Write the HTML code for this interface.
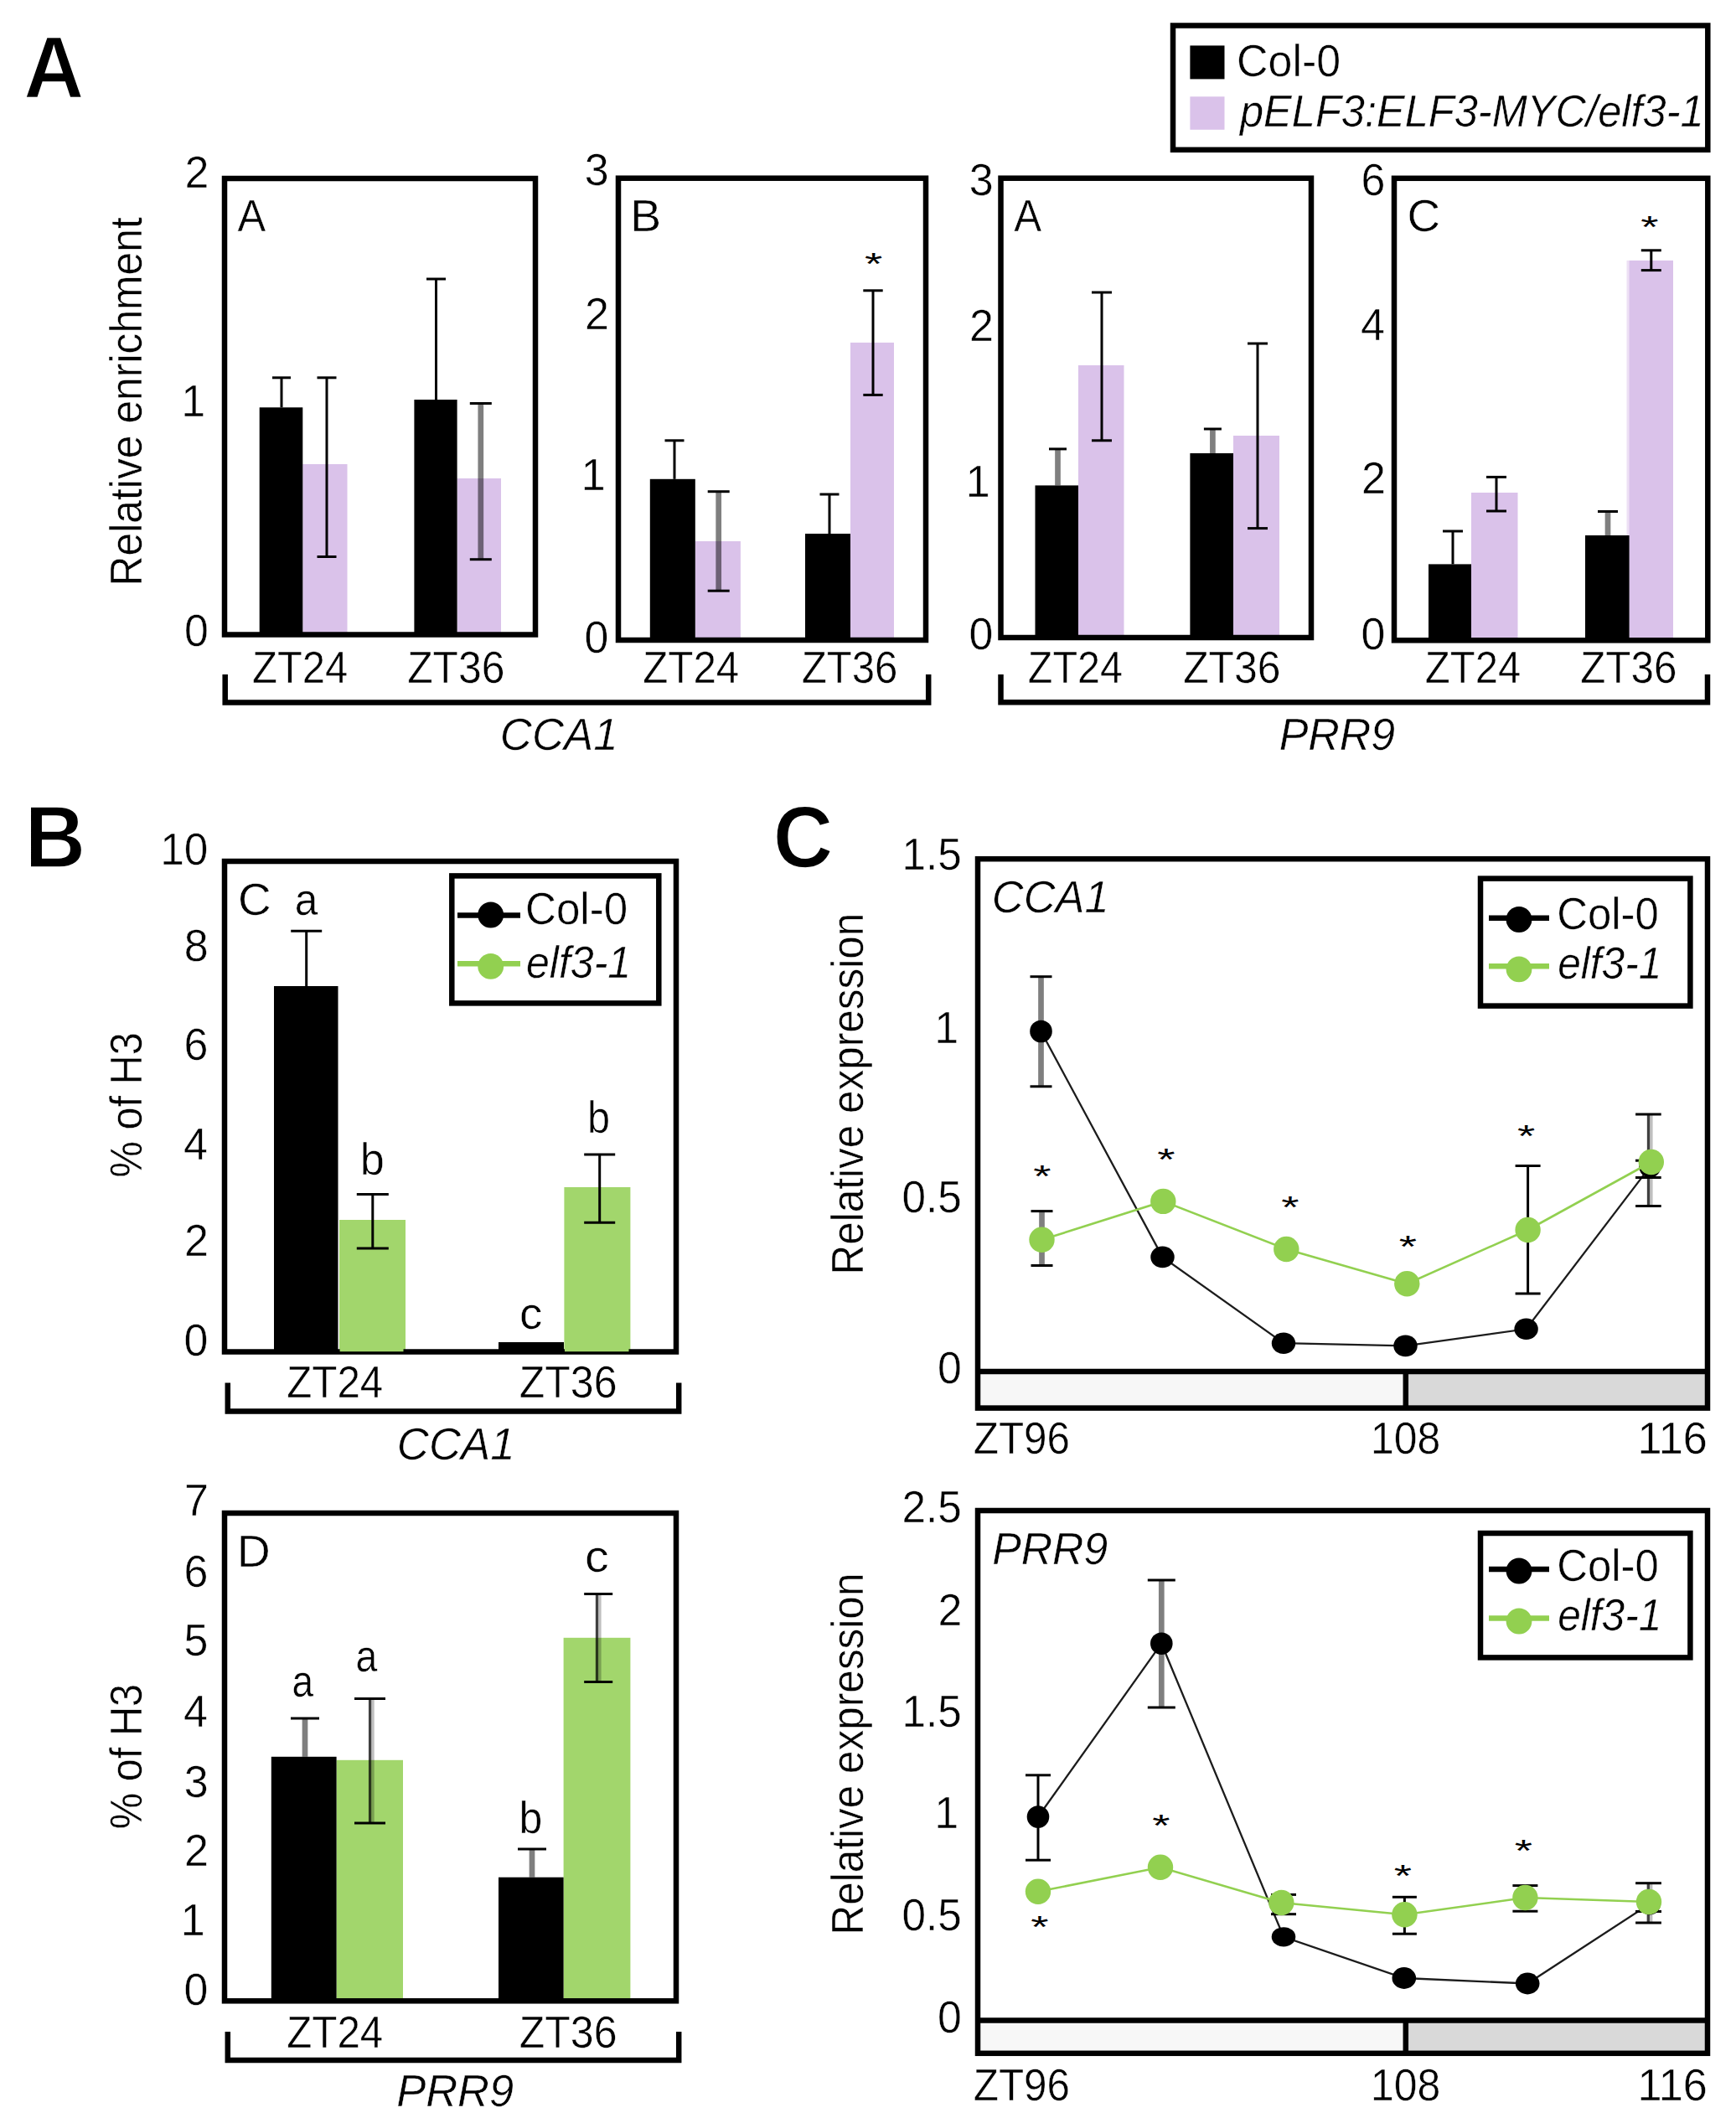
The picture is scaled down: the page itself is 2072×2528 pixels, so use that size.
<!DOCTYPE html>
<html><head><meta charset="utf-8"><title>Figure</title>
<style>
html,body{margin:0;padding:0;background:#fff;}
svg{display:block;font-family:"Liberation Sans",sans-serif;}
</style></head>
<body>
<svg width="2072" height="2528" viewBox="0 0 2072 2528">
<rect width="2072" height="2528" fill="#fff"/>
<g>
<text transform="translate(28.20,115.60) scale(0.9647,1)" font-size="103.5" font-weight="bold" fill="#000" stroke="#fff" stroke-width="1.6">A</text>
<text transform="translate(29.41,1035.30) scale(0.9725,1)" font-size="103.5" font-weight="bold" fill="#000" stroke="#fff" stroke-width="1.6">B</text>
<text transform="translate(922.64,1035.10) scale(0.9573,1)" font-size="103.5" font-weight="bold" fill="#000" stroke="#fff" stroke-width="1.6">C</text>
<rect x="1400.00" y="30.50" width="638.30" height="148.30" fill="none" stroke="#000" stroke-width="6.5"/>
<rect x="1420.40" y="54.40" width="41.10" height="40.00" fill="#000"/>
<rect x="1420.40" y="115.30" width="41.10" height="39.50" fill="#dac2ea"/>
<text transform="translate(1476.05,90.55) scale(0.9795,1)" font-size="53" fill="#000" stroke="#fff" stroke-width="0.5">Col-0</text>
<text transform="translate(1479.91,151.25) scale(0.9545,1)" font-size="53" font-style="italic" fill="#000" stroke="#fff" stroke-width="0.5">pELF3:ELF3-MYC/elf3-1</text>
<rect x="361.30" y="554.00" width="53.20" height="203.50" fill="#dac2ea"/>
<rect x="545.60" y="571.00" width="52.40" height="186.50" fill="#dac2ea"/>
<rect x="309.70" y="486.30" width="51.60" height="271.20" fill="#000"/>
<rect x="494.40" y="477.00" width="51.20" height="280.50" fill="#000"/>
<line x1="336.00" y1="450.80" x2="336.00" y2="486.30" stroke="#000" stroke-width="3" stroke-linecap="butt"/>
<line x1="325.00" y1="450.80" x2="347.00" y2="450.80" stroke="#000" stroke-width="3" stroke-linecap="butt"/>
<line x1="390.00" y1="450.80" x2="390.00" y2="664.50" stroke="#000" stroke-width="3" stroke-linecap="butt"/>
<line x1="378.50" y1="450.80" x2="401.50" y2="450.80" stroke="#000" stroke-width="3" stroke-linecap="butt"/>
<line x1="378.50" y1="664.50" x2="401.50" y2="664.50" stroke="#000" stroke-width="3" stroke-linecap="butt"/>
<line x1="520.50" y1="333.00" x2="520.50" y2="477.00" stroke="#000" stroke-width="3" stroke-linecap="butt"/>
<line x1="509.00" y1="333.00" x2="532.00" y2="333.00" stroke="#000" stroke-width="3" stroke-linecap="butt"/>
<line x1="573.80" y1="481.50" x2="573.80" y2="667.70" stroke="#000" stroke-opacity="0.5" stroke-width="6.7"/>
<line x1="560.80" y1="481.50" x2="586.80" y2="481.50" stroke="#000" stroke-width="3" stroke-linecap="butt"/>
<line x1="560.80" y1="667.70" x2="586.80" y2="667.70" stroke="#000" stroke-width="3" stroke-linecap="butt"/>
<rect x="268.00" y="213.00" width="371.00" height="544.50" fill="none" stroke="#000" stroke-width="6.5"/>
<text transform="translate(220.50,223.73) scale(0.9807,1)" font-size="53" fill="#000" stroke="#fff" stroke-width="0.5">2</text>
<text transform="translate(216.34,497.23) scale(0.9818,1)" font-size="53" fill="#000" stroke="#fff" stroke-width="0.5">1</text>
<text transform="translate(219.88,771.23) scale(0.9798,1)" font-size="53" fill="#000" stroke="#fff" stroke-width="0.5">0</text>
<text transform="translate(283.62,276.25) scale(0.9541,1)" font-size="53" fill="#000" stroke="#fff" stroke-width="0.5">A</text>
<text transform="translate(300.96,814.55) scale(0.9249,1)" font-size="53" fill="#000" stroke="#fff" stroke-width="0.5">ZT24</text>
<text transform="translate(486.13,814.55) scale(0.9403,1)" font-size="53" fill="#000" stroke="#fff" stroke-width="0.5">ZT36</text>
<text transform="translate(169.10,699.51) rotate(-90) scale(0.9404,1)" font-size="53" stroke="#fff" stroke-width="0.5">Relative enrichment</text>
<rect x="829.80" y="646.00" width="54.10" height="118.00" fill="#dac2ea"/>
<rect x="1015.00" y="408.90" width="52.00" height="355.10" fill="#dac2ea"/>
<rect x="775.80" y="571.80" width="54.00" height="192.20" fill="#000"/>
<rect x="961.00" y="637.00" width="54.00" height="127.00" fill="#000"/>
<line x1="805.00" y1="525.80" x2="805.00" y2="571.80" stroke="#000" stroke-width="3" stroke-linecap="butt"/>
<line x1="793.50" y1="525.80" x2="816.50" y2="525.80" stroke="#000" stroke-width="3" stroke-linecap="butt"/>
<line x1="857.70" y1="586.70" x2="857.70" y2="705.20" stroke="#000" stroke-opacity="0.5" stroke-width="6.7"/>
<line x1="844.70" y1="586.70" x2="870.70" y2="586.70" stroke="#000" stroke-width="3" stroke-linecap="butt"/>
<line x1="844.70" y1="705.20" x2="870.70" y2="705.20" stroke="#000" stroke-width="3" stroke-linecap="butt"/>
<line x1="990.00" y1="590.00" x2="990.00" y2="637.00" stroke="#000" stroke-width="3" stroke-linecap="butt"/>
<line x1="978.50" y1="590.00" x2="1001.50" y2="590.00" stroke="#000" stroke-width="3" stroke-linecap="butt"/>
<line x1="1042.00" y1="346.80" x2="1042.00" y2="471.40" stroke="#000" stroke-width="3" stroke-linecap="butt"/>
<line x1="1030.30" y1="346.80" x2="1053.70" y2="346.80" stroke="#000" stroke-width="3" stroke-linecap="butt"/>
<line x1="1030.30" y1="471.40" x2="1053.70" y2="471.40" stroke="#000" stroke-width="3" stroke-linecap="butt"/>
<rect x="738.00" y="212.70" width="367.00" height="551.30" fill="none" stroke="#000" stroke-width="6.5"/>
<text transform="translate(697.63,220.53) scale(0.9799,1)" font-size="53" fill="#000" stroke="#fff" stroke-width="0.5">3</text>
<text transform="translate(698.00,392.53) scale(0.9807,1)" font-size="53" fill="#000" stroke="#fff" stroke-width="0.5">2</text>
<text transform="translate(693.84,585.43) scale(0.9818,1)" font-size="53" fill="#000" stroke="#fff" stroke-width="0.5">1</text>
<text transform="translate(697.38,778.73) scale(0.9798,1)" font-size="53" fill="#000" stroke="#fff" stroke-width="0.5">0</text>
<text transform="translate(752.18,276.05) scale(1.0453,1)" font-size="53" fill="#000" stroke="#fff" stroke-width="0.5">B</text>
<text transform="translate(1032.05,327.99) scale(1.03,0.71)" font-size="53">*</text>
<text transform="translate(767.15,814.55) scale(0.9307,1)" font-size="53" fill="#000" stroke="#fff" stroke-width="0.5">ZT24</text>
<text transform="translate(956.65,814.55) scale(0.9277,1)" font-size="53" fill="#000" stroke="#fff" stroke-width="0.5">ZT36</text>
<polyline points="268.70,805.00 268.70,838.50 1108.20,838.50 1108.20,805.00" fill="none" stroke="#000" stroke-width="6.5"/>
<text transform="translate(596.85,895.25) scale(0.9956,1)" font-size="53" font-style="italic" fill="#000" stroke="#fff" stroke-width="0.5">CCA1</text>
<rect x="1287.00" y="436.00" width="54.50" height="325.00" fill="#dac2ea"/>
<rect x="1472.00" y="520.00" width="55.00" height="241.00" fill="#dac2ea"/>
<rect x="1235.50" y="579.40" width="51.50" height="181.60" fill="#000"/>
<rect x="1420.40" y="541.00" width="51.60" height="220.00" fill="#000"/>
<line x1="1262.50" y1="535.90" x2="1262.50" y2="579.40" stroke="#000" stroke-opacity="0.5" stroke-width="6.7"/>
<line x1="1252.00" y1="535.90" x2="1273.00" y2="535.90" stroke="#000" stroke-width="3" stroke-linecap="butt"/>
<line x1="1315.00" y1="349.00" x2="1315.00" y2="525.80" stroke="#000" stroke-width="3" stroke-linecap="butt"/>
<line x1="1303.00" y1="349.00" x2="1327.00" y2="349.00" stroke="#000" stroke-width="3" stroke-linecap="butt"/>
<line x1="1303.00" y1="525.80" x2="1327.00" y2="525.80" stroke="#000" stroke-width="3" stroke-linecap="butt"/>
<line x1="1447.40" y1="512.00" x2="1447.40" y2="541.00" stroke="#000" stroke-opacity="0.5" stroke-width="6.7"/>
<line x1="1436.90" y1="512.00" x2="1457.90" y2="512.00" stroke="#000" stroke-width="3" stroke-linecap="butt"/>
<line x1="1501.00" y1="410.00" x2="1501.00" y2="630.60" stroke="#000" stroke-width="3" stroke-linecap="butt"/>
<line x1="1489.00" y1="410.00" x2="1513.00" y2="410.00" stroke="#000" stroke-width="3" stroke-linecap="butt"/>
<line x1="1489.00" y1="630.60" x2="1513.00" y2="630.60" stroke="#000" stroke-width="3" stroke-linecap="butt"/>
<rect x="1194.50" y="212.70" width="370.50" height="548.30" fill="none" stroke="#000" stroke-width="6.5"/>
<text transform="translate(1156.63,233.03) scale(0.9799,1)" font-size="53" fill="#000" stroke="#fff" stroke-width="0.5">3</text>
<text transform="translate(1157.00,406.53) scale(0.9807,1)" font-size="53" fill="#000" stroke="#fff" stroke-width="0.5">2</text>
<text transform="translate(1152.84,593.23) scale(0.9818,1)" font-size="53" fill="#000" stroke="#fff" stroke-width="0.5">1</text>
<text transform="translate(1156.38,774.73) scale(0.9798,1)" font-size="53" fill="#000" stroke="#fff" stroke-width="0.5">0</text>
<text transform="translate(1210.13,276.05) scale(0.9313,1)" font-size="53" fill="#000" stroke="#fff" stroke-width="0.5">A</text>
<text transform="translate(1226.77,814.55) scale(0.9150,1)" font-size="53" fill="#000" stroke="#fff" stroke-width="0.5">ZT24</text>
<text transform="translate(1412.13,814.55) scale(0.9403,1)" font-size="53" fill="#000" stroke="#fff" stroke-width="0.5">ZT36</text>
<rect x="1941.50" y="310.90" width="3.70" height="453.10" fill="#ede0f5"/>
<rect x="1756.00" y="588.00" width="55.50" height="176.30" fill="#dac2ea"/>
<rect x="1944.60" y="310.90" width="52.40" height="453.40" fill="#dac2ea"/>
<rect x="1705.00" y="673.40" width="51.00" height="90.90" fill="#000"/>
<rect x="1892.00" y="639.00" width="52.60" height="125.30" fill="#000"/>
<line x1="1734.00" y1="634.00" x2="1734.00" y2="673.40" stroke="#000" stroke-width="3" stroke-linecap="butt"/>
<line x1="1722.00" y1="634.00" x2="1746.00" y2="634.00" stroke="#000" stroke-width="3" stroke-linecap="butt"/>
<line x1="1786.00" y1="569.40" x2="1786.00" y2="610.00" stroke="#000" stroke-width="3" stroke-linecap="butt"/>
<line x1="1774.00" y1="569.40" x2="1798.00" y2="569.40" stroke="#000" stroke-width="3" stroke-linecap="butt"/>
<line x1="1774.00" y1="610.00" x2="1798.00" y2="610.00" stroke="#000" stroke-width="3" stroke-linecap="butt"/>
<line x1="1919.00" y1="610.50" x2="1919.00" y2="639.00" stroke="#000" stroke-opacity="0.5" stroke-width="6.7"/>
<line x1="1907.00" y1="610.50" x2="1931.00" y2="610.50" stroke="#000" stroke-width="3" stroke-linecap="butt"/>
<line x1="1970.80" y1="298.80" x2="1970.80" y2="322.60" stroke="#000" stroke-width="3" stroke-linecap="butt"/>
<line x1="1958.80" y1="298.80" x2="1982.80" y2="298.80" stroke="#000" stroke-width="3" stroke-linecap="butt"/>
<line x1="1958.80" y1="322.60" x2="1982.80" y2="322.60" stroke="#000" stroke-width="3" stroke-linecap="butt"/>
<rect x="1664.00" y="212.80" width="374.30" height="551.50" fill="none" stroke="#000" stroke-width="6.5"/>
<text transform="translate(1624.62,232.73) scale(0.9804,1)" font-size="53" fill="#000" stroke="#fff" stroke-width="0.5">6</text>
<text transform="translate(1623.89,405.73) scale(0.9787,1)" font-size="53" fill="#000" stroke="#fff" stroke-width="0.5">4</text>
<text transform="translate(1625.00,588.73) scale(0.9807,1)" font-size="53" fill="#000" stroke="#fff" stroke-width="0.5">2</text>
<text transform="translate(1624.38,774.73) scale(0.9798,1)" font-size="53" fill="#000" stroke="#fff" stroke-width="0.5">0</text>
<text transform="translate(1679.51,275.85) scale(1.0340,1)" font-size="53" fill="#000" stroke="#fff" stroke-width="0.5">C</text>
<text transform="translate(1958.35,283.79) scale(1.03,0.71)" font-size="53">*</text>
<text transform="translate(1700.76,814.55) scale(0.9249,1)" font-size="53" fill="#000" stroke="#fff" stroke-width="0.5">ZT24</text>
<text transform="translate(1886.14,814.55) scale(0.9319,1)" font-size="53" fill="#000" stroke="#fff" stroke-width="0.5">ZT36</text>
<polyline points="1194.50,805.00 1194.50,838.20 2038.00,838.20 2038.00,805.00" fill="none" stroke="#000" stroke-width="6.5"/>
<text transform="translate(1526.69,895.25) scale(0.9803,1)" font-size="53" font-style="italic" fill="#000" stroke="#fff" stroke-width="0.5">PRR9</text>
<rect x="405.00" y="1456.00" width="79.00" height="157.50" fill="#a2d66c"/>
<rect x="673.40" y="1417.00" width="79.00" height="196.50" fill="#a2d66c"/>
<rect x="327.00" y="1177.00" width="76.50" height="436.50" fill="#000"/>
<rect x="595.00" y="1602.00" width="78.00" height="11.50" fill="#000"/>
<line x1="365.70" y1="1111.30" x2="365.70" y2="1177.00" stroke="#000" stroke-width="3" stroke-linecap="butt"/>
<line x1="347.20" y1="1111.30" x2="384.20" y2="1111.30" stroke="#000" stroke-width="3" stroke-linecap="butt"/>
<line x1="444.80" y1="1425.50" x2="444.80" y2="1490.00" stroke="#000" stroke-width="3" stroke-linecap="butt"/>
<line x1="425.80" y1="1425.50" x2="463.80" y2="1425.50" stroke="#000" stroke-width="3" stroke-linecap="butt"/>
<line x1="425.80" y1="1490.00" x2="463.80" y2="1490.00" stroke="#000" stroke-width="3" stroke-linecap="butt"/>
<line x1="715.70" y1="1378.00" x2="715.70" y2="1459.30" stroke="#000" stroke-width="3" stroke-linecap="butt"/>
<line x1="697.20" y1="1378.00" x2="734.20" y2="1378.00" stroke="#000" stroke-width="3" stroke-linecap="butt"/>
<line x1="697.20" y1="1459.30" x2="734.20" y2="1459.30" stroke="#000" stroke-width="3" stroke-linecap="butt"/>
<rect x="268.00" y="1028.00" width="539.00" height="585.50" fill="none" stroke="#000" stroke-width="6.5"/>
<rect x="405.60" y="1600.00" width="75.90" height="13.20" fill="#a2d66c"/>
<rect x="674.00" y="1600.00" width="76.50" height="13.20" fill="#a2d66c"/>
<text transform="translate(191.14,1031.73) scale(0.9695,1)" font-size="53" fill="#000" stroke="#fff" stroke-width="0.5">10</text>
<text transform="translate(219.63,1147.13) scale(0.9801,1)" font-size="53" fill="#000" stroke="#fff" stroke-width="0.5">8</text>
<text transform="translate(219.62,1264.73) scale(0.9804,1)" font-size="53" fill="#000" stroke="#fff" stroke-width="0.5">6</text>
<text transform="translate(218.89,1383.73) scale(0.9787,1)" font-size="53" fill="#000" stroke="#fff" stroke-width="0.5">4</text>
<text transform="translate(220.00,1499.33) scale(0.9807,1)" font-size="53" fill="#000" stroke="#fff" stroke-width="0.5">2</text>
<text transform="translate(219.38,1617.73) scale(0.9798,1)" font-size="53" fill="#000" stroke="#fff" stroke-width="0.5">0</text>
<text transform="translate(169.40,1405.51) rotate(-90) scale(0.9202,1)" font-size="53" stroke="#fff" stroke-width="0.5">% of H3</text>
<text transform="translate(284.00,1091.85) scale(1.0370,1)" font-size="53" fill="#000" stroke="#fff" stroke-width="0.5">C</text>
<text transform="translate(351.65,1091.85) scale(0.9342,1)" font-size="53" fill="#000" stroke="#fff" stroke-width="0.5">a</text>
<text transform="translate(429.86,1402.05) scale(0.9853,1)" font-size="53" fill="#000" stroke="#fff" stroke-width="0.5">b</text>
<text transform="translate(620.03,1585.75) scale(1.0312,1)" font-size="53" fill="#000" stroke="#fff" stroke-width="0.5">c</text>
<text transform="translate(700.99,1352.05) scale(0.9182,1)" font-size="53" fill="#000" stroke="#fff" stroke-width="0.5">b</text>
<rect x="539.30" y="1045.40" width="247.00" height="152.00" fill="#fff" stroke="#000" stroke-width="6.5"/>
<line x1="546.00" y1="1092.40" x2="621.00" y2="1092.40" stroke="#000" stroke-width="6.5" stroke-linecap="butt"/>
<circle cx="585.70" cy="1092.00" r="15.4" fill="#000"/>
<line x1="546.00" y1="1150.20" x2="621.00" y2="1150.20" stroke="#92d050" stroke-width="6.5" stroke-linecap="butt"/>
<circle cx="585.70" cy="1153.40" r="15.4" fill="#92d050"/>
<text transform="translate(627.00,1102.55) scale(0.9639,1)" font-size="53" fill="#000" stroke="#fff" stroke-width="0.5">Col-0</text>
<text transform="translate(627.92,1166.55) scale(0.9454,1)" font-size="53" font-style="italic" fill="#000" stroke="#fff" stroke-width="0.5">elf3-1</text>
<text transform="translate(342.15,1667.75) scale(0.9307,1)" font-size="53" fill="#000" stroke="#fff" stroke-width="0.5">ZT24</text>
<text transform="translate(619.72,1667.75) scale(0.9444,1)" font-size="53" fill="#000" stroke="#fff" stroke-width="0.5">ZT36</text>
<polyline points="271.80,1650.50 271.80,1684.50 810.20,1684.50 810.20,1650.50" fill="none" stroke="#000" stroke-width="6.5"/>
<text transform="translate(473.85,1741.75) scale(0.9956,1)" font-size="53" font-style="italic" fill="#000" stroke="#fff" stroke-width="0.5">CCA1</text>
<rect x="401.60" y="2100.80" width="79.40" height="287.50" fill="#a2d66c"/>
<rect x="672.60" y="1954.80" width="79.80" height="433.50" fill="#a2d66c"/>
<rect x="323.80" y="2096.80" width="77.80" height="291.50" fill="#000"/>
<rect x="595.00" y="2240.70" width="77.60" height="147.60" fill="#000"/>
<line x1="364.00" y1="2051.00" x2="364.00" y2="2096.80" stroke="#000" stroke-opacity="0.5" stroke-width="6.7"/>
<line x1="347.00" y1="2051.00" x2="381.00" y2="2051.00" stroke="#000" stroke-width="3" stroke-linecap="butt"/>
<line x1="441.60" y1="2027.40" x2="441.60" y2="2176.00" stroke="#000" stroke-opacity="0.75" stroke-width="3.3"/>
<line x1="445.00" y1="2027.40" x2="445.00" y2="2176.00" stroke="#000" stroke-opacity="0.25" stroke-width="3.4"/>
<line x1="423.00" y1="2027.40" x2="460.00" y2="2027.40" stroke="#000" stroke-width="3" stroke-linecap="butt"/>
<line x1="423.00" y1="2176.00" x2="460.00" y2="2176.00" stroke="#000" stroke-width="3" stroke-linecap="butt"/>
<line x1="635.00" y1="2207.00" x2="635.00" y2="2240.70" stroke="#000" stroke-opacity="0.5" stroke-width="6.7"/>
<line x1="618.00" y1="2207.00" x2="652.00" y2="2207.00" stroke="#000" stroke-width="3" stroke-linecap="butt"/>
<line x1="712.50" y1="1902.40" x2="712.50" y2="2007.50" stroke="#000" stroke-opacity="0.75" stroke-width="3.3"/>
<line x1="715.90" y1="1902.40" x2="715.90" y2="2007.50" stroke="#000" stroke-opacity="0.25" stroke-width="3.4"/>
<line x1="697.20" y1="1902.40" x2="731.20" y2="1902.40" stroke="#000" stroke-width="3" stroke-linecap="butt"/>
<line x1="697.20" y1="2007.50" x2="731.20" y2="2007.50" stroke="#000" stroke-width="3" stroke-linecap="butt"/>
<rect x="268.00" y="1806.00" width="539.00" height="582.30" fill="none" stroke="#000" stroke-width="6.5"/>
<text transform="translate(220.00,1809.43) scale(0.9807,1)" font-size="53" fill="#000" stroke="#fff" stroke-width="0.5">7</text>
<text transform="translate(219.62,1894.33) scale(0.9804,1)" font-size="53" fill="#000" stroke="#fff" stroke-width="0.5">6</text>
<text transform="translate(219.50,1975.73) scale(0.9799,1)" font-size="53" fill="#000" stroke="#fff" stroke-width="0.5">5</text>
<text transform="translate(218.89,2060.73) scale(0.9787,1)" font-size="53" fill="#000" stroke="#fff" stroke-width="0.5">4</text>
<text transform="translate(219.63,2144.73) scale(0.9799,1)" font-size="53" fill="#000" stroke="#fff" stroke-width="0.5">3</text>
<text transform="translate(220.00,2226.73) scale(0.9807,1)" font-size="53" fill="#000" stroke="#fff" stroke-width="0.5">2</text>
<text transform="translate(215.84,2310.23) scale(0.9818,1)" font-size="53" fill="#000" stroke="#fff" stroke-width="0.5">1</text>
<text transform="translate(219.38,2392.53) scale(0.9798,1)" font-size="53" fill="#000" stroke="#fff" stroke-width="0.5">0</text>
<text transform="translate(169.40,2183.21) rotate(-90) scale(0.9202,1)" font-size="53" stroke="#fff" stroke-width="0.5">% of H3</text>
<text transform="translate(282.68,1870.05) scale(1.0445,1)" font-size="53" fill="#000" stroke="#fff" stroke-width="0.5">D</text>
<text transform="translate(348.59,2025.05) scale(0.8683,1)" font-size="53" fill="#000" stroke="#fff" stroke-width="0.5">a</text>
<text transform="translate(424.38,1994.85) scale(0.8756,1)" font-size="53" fill="#000" stroke="#fff" stroke-width="0.5">a</text>
<text transform="translate(619.50,2187.55) scale(0.9434,1)" font-size="53" fill="#000" stroke="#fff" stroke-width="0.5">b</text>
<text transform="translate(698.11,1875.55) scale(1.0838,1)" font-size="53" fill="#000" stroke="#fff" stroke-width="0.5">c</text>
<text transform="translate(342.15,2444.05) scale(0.9307,1)" font-size="53" fill="#000" stroke="#fff" stroke-width="0.5">ZT24</text>
<text transform="translate(619.72,2444.05) scale(0.9444,1)" font-size="53" fill="#000" stroke="#fff" stroke-width="0.5">ZT36</text>
<polyline points="271.80,2425.00 271.80,2459.00 810.20,2459.00 810.20,2425.00" fill="none" stroke="#000" stroke-width="6.5"/>
<text transform="translate(473.17,2514.05) scale(0.9912,1)" font-size="53" font-style="italic" fill="#000" stroke="#fff" stroke-width="0.5">PRR9</text>
<polyline points="1242.5,1231.0 1387.5,1500.4 1532.0,1603.2 1677.5,1606.4 1821.6,1586.3 1969.3,1392.6" fill="none" stroke="#1c1c1c" stroke-width="2.3"/>
<line x1="1242.50" y1="1165.70" x2="1242.50" y2="1296.80" stroke="#000" stroke-opacity="0.5" stroke-width="6.7"/>
<line x1="1229.50" y1="1165.70" x2="1255.50" y2="1165.70" stroke="#000" stroke-width="3" stroke-linecap="butt"/>
<line x1="1229.50" y1="1296.80" x2="1255.50" y2="1296.80" stroke="#000" stroke-width="3" stroke-linecap="butt"/>
<line x1="1967.50" y1="1330.00" x2="1967.50" y2="1439.50" stroke="#000" stroke-opacity="0.75" stroke-width="3.3"/>
<line x1="1970.90" y1="1330.00" x2="1970.90" y2="1439.50" stroke="#000" stroke-opacity="0.25" stroke-width="3.4"/>
<line x1="1952.10" y1="1330.00" x2="1982.70" y2="1330.00" stroke="#000" stroke-width="3" stroke-linecap="butt"/>
<line x1="1952.10" y1="1439.50" x2="1982.70" y2="1439.50" stroke="#000" stroke-width="3" stroke-linecap="butt"/>
<line x1="1952.00" y1="1405.50" x2="1982.70" y2="1405.50" stroke="#000" stroke-width="3" stroke-linecap="butt"/>
<line x1="1952.00" y1="1385.20" x2="1958.00" y2="1385.20" stroke="#000" stroke-width="3" stroke-linecap="butt"/>
<circle cx="1242.50" cy="1231.00" r="13.3" fill="#000"/>
<ellipse cx="1387.50" cy="1500.40" rx="14.2" ry="12.8" fill="#000"/>
<ellipse cx="1532.00" cy="1603.20" rx="14.2" ry="12.8" fill="#000"/>
<ellipse cx="1677.50" cy="1606.40" rx="14.2" ry="12.8" fill="#000"/>
<ellipse cx="1821.60" cy="1586.30" rx="14.2" ry="12.8" fill="#000"/>
<circle cx="1969.30" cy="1392.60" r="13" fill="#000"/>
<polyline points="1243.5,1479.8 1388.3,1433.9 1535.3,1491.0 1679.3,1532.3 1823.6,1468.0 1970.8,1387.0" fill="none" stroke="#92d050" stroke-width="2.6"/>
<line x1="1243.50" y1="1445.60" x2="1243.50" y2="1510.50" stroke="#000" stroke-opacity="0.5" stroke-width="6.7"/>
<line x1="1230.50" y1="1445.60" x2="1256.50" y2="1445.60" stroke="#000" stroke-width="3" stroke-linecap="butt"/>
<line x1="1230.50" y1="1510.50" x2="1256.50" y2="1510.50" stroke="#000" stroke-width="3" stroke-linecap="butt"/>
<line x1="1823.60" y1="1391.50" x2="1823.60" y2="1544.00" stroke="#000" stroke-width="3" stroke-linecap="butt"/>
<line x1="1808.60" y1="1391.50" x2="1838.60" y2="1391.50" stroke="#000" stroke-width="3" stroke-linecap="butt"/>
<line x1="1808.60" y1="1544.00" x2="1838.60" y2="1544.00" stroke="#000" stroke-width="3" stroke-linecap="butt"/>
<circle cx="1243.50" cy="1479.80" r="15.2" fill="#92d050"/>
<circle cx="1388.30" cy="1433.90" r="15.2" fill="#92d050"/>
<circle cx="1535.30" cy="1491.00" r="15.2" fill="#92d050"/>
<circle cx="1679.30" cy="1532.30" r="15.2" fill="#92d050"/>
<circle cx="1823.60" cy="1468.00" r="15.2" fill="#92d050"/>
<circle cx="1970.80" cy="1387.00" r="15.2" fill="#92d050"/>
<rect x="1167.00" y="1637.00" width="510.80" height="43.60" fill="#f7f7f7"/>
<rect x="1677.80" y="1637.00" width="360.20" height="43.60" fill="#d9d9d9"/>
<line x1="1167.00" y1="1637.00" x2="2038.00" y2="1637.00" stroke="#000" stroke-width="6.5" stroke-linecap="butt"/>
<line x1="1677.80" y1="1637.00" x2="1677.80" y2="1680.60" stroke="#000" stroke-width="6.5" stroke-linecap="butt"/>
<rect x="1167.00" y="1025.20" width="871.00" height="655.40" fill="none" stroke="#000" stroke-width="6.5"/>
<text transform="translate(1076.53,1038.33) scale(0.9674,1)" font-size="53" fill="#000" stroke="#fff" stroke-width="0.5">1.5</text>
<text transform="translate(1115.34,1244.73) scale(0.9818,1)" font-size="53" fill="#000" stroke="#fff" stroke-width="0.5">1</text>
<text transform="translate(1076.55,1447.33) scale(0.9672,1)" font-size="53" fill="#000" stroke="#fff" stroke-width="0.5">0.5</text>
<text transform="translate(1118.88,1651.33) scale(0.9798,1)" font-size="53" fill="#000" stroke="#fff" stroke-width="0.5">0</text>
<text transform="translate(1029.60,1521.43) rotate(-90) scale(0.9335,1)" font-size="53" stroke="#fff" stroke-width="0.5">Relative expression</text>
<text transform="translate(1183.87,1088.85) scale(0.9881,1)" font-size="53" font-style="italic" fill="#000" stroke="#fff" stroke-width="0.5">CCA1</text>
<rect x="1767.00" y="1048.60" width="250.40" height="152.00" fill="#fff" stroke="#000" stroke-width="6.5"/>
<line x1="1777.00" y1="1095.80" x2="1849.00" y2="1095.80" stroke="#000" stroke-width="6.5" stroke-linecap="butt"/>
<circle cx="1813.00" cy="1097.50" r="15.4" fill="#000"/>
<line x1="1777.00" y1="1153.20" x2="1849.00" y2="1153.20" stroke="#92d050" stroke-width="6.5" stroke-linecap="butt"/>
<circle cx="1813.00" cy="1156.80" r="15.4" fill="#92d050"/>
<text transform="translate(1858.20,1109.45) scale(0.9606,1)" font-size="53" fill="#000" stroke="#fff" stroke-width="0.5">Col-0</text>
<text transform="translate(1859.14,1167.75) scale(0.9375,1)" font-size="53" font-style="italic" fill="#000" stroke="#fff" stroke-width="0.5">elf3-1</text>
<text transform="translate(1233.35,1417.29) scale(1.03,0.71)" font-size="53">*</text>
<text transform="translate(1381.35,1396.79) scale(1.03,0.71)" font-size="53">*</text>
<text transform="translate(1529.35,1453.79) scale(1.03,0.71)" font-size="53">*</text>
<text transform="translate(1669.85,1501.29) scale(1.03,0.71)" font-size="53">*</text>
<text transform="translate(1810.95,1369.29) scale(1.03,0.71)" font-size="53">*</text>
<text transform="translate(1161.85,1735.05) scale(0.9311,1)" font-size="53" fill="#000" stroke="#fff" stroke-width="0.5">ZT96</text>
<text transform="translate(1636.01,1735.05) scale(0.9410,1)" font-size="53" fill="#000" stroke="#fff" stroke-width="0.5">108</text>
<text transform="translate(1954.53,1735.05) scale(0.9862,1)" font-size="53" fill="#000" stroke="#fff" stroke-width="0.5">116</text>
<polyline points="1239.0,2168.5 1386.3,1961.7 1532.0,2311.8 1675.8,2361.0 1823.2,2367.5 1969.0,2272.5" fill="none" stroke="#1c1c1c" stroke-width="2.3"/>
<line x1="1239.00" y1="2118.80" x2="1239.00" y2="2220.20" stroke="#000" stroke-width="3" stroke-linecap="butt"/>
<line x1="1224.00" y1="2118.80" x2="1254.00" y2="2118.80" stroke="#000" stroke-width="3" stroke-linecap="butt"/>
<line x1="1224.00" y1="2220.20" x2="1254.00" y2="2220.20" stroke="#000" stroke-width="3" stroke-linecap="butt"/>
<line x1="1386.30" y1="1886.00" x2="1386.30" y2="2038.00" stroke="#000" stroke-opacity="0.5" stroke-width="6.7"/>
<line x1="1369.80" y1="1886.00" x2="1402.80" y2="1886.00" stroke="#000" stroke-width="3" stroke-linecap="butt"/>
<line x1="1369.80" y1="2038.00" x2="1402.80" y2="2038.00" stroke="#000" stroke-width="3" stroke-linecap="butt"/>
<line x1="1967.30" y1="2247.70" x2="1967.30" y2="2295.00" stroke="#000" stroke-opacity="0.75" stroke-width="3.3"/>
<line x1="1970.70" y1="2247.70" x2="1970.70" y2="2295.00" stroke="#000" stroke-opacity="0.25" stroke-width="3.4"/>
<line x1="1952.10" y1="2247.70" x2="1982.90" y2="2247.70" stroke="#000" stroke-width="3" stroke-linecap="butt"/>
<line x1="1952.10" y1="2295.00" x2="1982.90" y2="2295.00" stroke="#000" stroke-width="3" stroke-linecap="butt"/>
<line x1="1952.00" y1="2281.50" x2="1983.00" y2="2281.50" stroke="#000" stroke-width="3" stroke-linecap="butt"/>
<circle cx="1239.00" cy="2168.50" r="13.3" fill="#000"/>
<circle cx="1386.30" cy="1961.70" r="13.3" fill="#000"/>
<ellipse cx="1532.00" cy="2311.80" rx="14.3" ry="11.6" fill="#000"/>
<ellipse cx="1675.80" cy="2361.00" rx="14.3" ry="12.9" fill="#000"/>
<ellipse cx="1823.20" cy="2367.50" rx="14.3" ry="12.9" fill="#000"/>
<circle cx="1969.00" cy="2272.50" r="13" fill="#000"/>
<polyline points="1239.0,2257.8 1385.0,2228.8 1529.3,2271.0 1676.4,2285.3 1820.4,2265.0 1968.0,2270.0" fill="none" stroke="#92d050" stroke-width="2.6"/>
<line x1="1532.00" y1="2261.40" x2="1532.00" y2="2284.70" stroke="#000" stroke-width="3" stroke-linecap="butt"/>
<line x1="1517.00" y1="2261.40" x2="1547.00" y2="2261.40" stroke="#000" stroke-width="3" stroke-linecap="butt"/>
<line x1="1517.00" y1="2284.70" x2="1547.00" y2="2284.70" stroke="#000" stroke-width="3" stroke-linecap="butt"/>
<line x1="1676.40" y1="2264.30" x2="1676.40" y2="2308.20" stroke="#000" stroke-width="3" stroke-linecap="butt"/>
<line x1="1661.90" y1="2264.30" x2="1690.90" y2="2264.30" stroke="#000" stroke-width="3" stroke-linecap="butt"/>
<line x1="1661.90" y1="2308.20" x2="1690.90" y2="2308.20" stroke="#000" stroke-width="3" stroke-linecap="butt"/>
<line x1="1820.40" y1="2250.60" x2="1820.40" y2="2281.20" stroke="#000" stroke-width="3" stroke-linecap="butt"/>
<line x1="1805.40" y1="2250.60" x2="1835.40" y2="2250.60" stroke="#000" stroke-width="3" stroke-linecap="butt"/>
<line x1="1805.40" y1="2281.20" x2="1835.40" y2="2281.20" stroke="#000" stroke-width="3" stroke-linecap="butt"/>
<circle cx="1239.00" cy="2257.80" r="15.2" fill="#92d050"/>
<circle cx="1385.00" cy="2228.80" r="15.2" fill="#92d050"/>
<circle cx="1529.30" cy="2271.00" r="15.2" fill="#92d050"/>
<circle cx="1676.40" cy="2285.30" r="15.2" fill="#92d050"/>
<circle cx="1820.40" cy="2265.00" r="15.2" fill="#92d050"/>
<circle cx="1968.00" cy="2270.00" r="15.2" fill="#92d050"/>
<rect x="1167.00" y="2411.50" width="510.80" height="39.30" fill="#f7f7f7"/>
<rect x="1677.80" y="2411.50" width="360.20" height="39.30" fill="#d9d9d9"/>
<line x1="1167.00" y1="2411.50" x2="2038.00" y2="2411.50" stroke="#000" stroke-width="6.5" stroke-linecap="butt"/>
<line x1="1677.80" y1="2411.50" x2="1677.80" y2="2450.80" stroke="#000" stroke-width="6.5" stroke-linecap="butt"/>
<rect x="1167.00" y="1803.00" width="871.00" height="647.80" fill="none" stroke="#000" stroke-width="6.5"/>
<text transform="translate(1076.54,1816.73) scale(0.9673,1)" font-size="53" fill="#000" stroke="#fff" stroke-width="0.5">2.5</text>
<text transform="translate(1119.50,1939.53) scale(0.9807,1)" font-size="53" fill="#000" stroke="#fff" stroke-width="0.5">2</text>
<text transform="translate(1076.53,2060.73) scale(0.9674,1)" font-size="53" fill="#000" stroke="#fff" stroke-width="0.5">1.5</text>
<text transform="translate(1115.34,2182.23) scale(0.9818,1)" font-size="53" fill="#000" stroke="#fff" stroke-width="0.5">1</text>
<text transform="translate(1076.55,2304.43) scale(0.9672,1)" font-size="53" fill="#000" stroke="#fff" stroke-width="0.5">0.5</text>
<text transform="translate(1118.88,2425.73) scale(0.9798,1)" font-size="53" fill="#000" stroke="#fff" stroke-width="0.5">0</text>
<text transform="translate(1029.60,2309.43) rotate(-90) scale(0.9339,1)" font-size="53" stroke="#fff" stroke-width="0.5">Relative expression</text>
<text transform="translate(1184.20,1867.05) scale(0.9767,1)" font-size="53" font-style="italic" fill="#000" stroke="#fff" stroke-width="0.5">PRR9</text>
<rect x="1767.00" y="1830.00" width="250.40" height="148.40" fill="#fff" stroke="#000" stroke-width="6.5"/>
<line x1="1777.00" y1="1873.00" x2="1849.00" y2="1873.00" stroke="#000" stroke-width="6.5" stroke-linecap="butt"/>
<circle cx="1813.00" cy="1875.00" r="15.4" fill="#000"/>
<line x1="1777.00" y1="1931.50" x2="1849.00" y2="1931.50" stroke="#92d050" stroke-width="6.5" stroke-linecap="butt"/>
<circle cx="1813.00" cy="1935.00" r="15.4" fill="#92d050"/>
<text transform="translate(1858.20,1887.05) scale(0.9606,1)" font-size="53" fill="#000" stroke="#fff" stroke-width="0.5">Col-0</text>
<text transform="translate(1859.14,1946.25) scale(0.9375,1)" font-size="53" font-style="italic" fill="#000" stroke="#fff" stroke-width="0.5">elf3-1</text>
<text transform="translate(1230.35,2313.29) scale(1.03,0.71)" font-size="53">*</text>
<text transform="translate(1375.35,2191.69) scale(1.03,0.71)" font-size="53">*</text>
<text transform="translate(1663.75,2252.29) scale(1.03,0.71)" font-size="53">*</text>
<text transform="translate(1807.75,2222.29) scale(1.03,0.71)" font-size="53">*</text>
<text transform="translate(1161.85,2506.65) scale(0.9311,1)" font-size="53" fill="#000" stroke="#fff" stroke-width="0.5">ZT96</text>
<text transform="translate(1636.01,2506.65) scale(0.9410,1)" font-size="53" fill="#000" stroke="#fff" stroke-width="0.5">108</text>
<text transform="translate(1954.53,2506.65) scale(0.9862,1)" font-size="53" fill="#000" stroke="#fff" stroke-width="0.5">116</text>
</g>
</svg>
</body></html>
